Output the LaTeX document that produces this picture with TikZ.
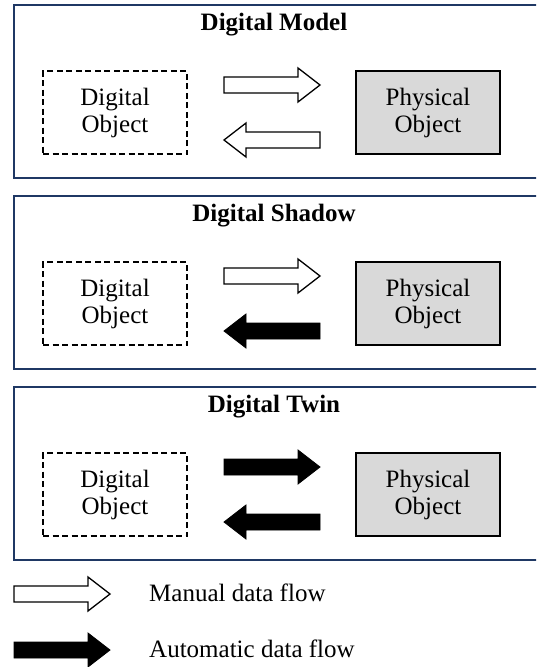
\documentclass[tikz,border=0pt]{standalone}
\usepackage{fontspec}
\setmainfont{Liberation Serif}
\definecolor{panelblue}{HTML}{1F3864}
\definecolor{physgray}{HTML}{D9D9D9}
\begin{document}
\begin{tikzpicture}[x=1pt,y=-1pt,
  every node/.style={font=\fontsize{25}{27}\selectfont, inner sep=0pt},
  panel/.style={draw=panelblue, line width=2.4pt},
  title/.style={font=\fontsize{25}{27}\selectfont\bfseries},
  digobj/.style={draw=black, dashed, dash pattern=on 6pt off 3.5pt, line width=1.5pt,
    minimum width=144pt, minimum height=83pt, align=center},
  physobj/.style={draw=black, fill=physgray, line width=1.5pt,
    minimum width=144pt, minimum height=83pt, align=center},
  manual/.style={draw=black, fill=white, line width=1.3pt, line join=miter},
  automatic/.style={draw=black, fill=black, line width=0.8pt, line join=miter},
  flowarrow/.pic={\path[pic actions] (0,-8) -- (74,-8) -- (74,-17) -- (96,0)
      -- (74,17) -- (74,8) -- (0,8) -- cycle;}
]
\useasboundingbox (0,0) rectangle (536,667);
\clip (0,0) rectangle (536,667);
\fill[white] (0,0) rectangle (536,667);

% three panels: top edge, title, forward-flow style, back-flow style
\foreach \top/\name/\fwd/\bwd [count=\i] in
  {5/Digital Model/manual/manual,
   196/Digital Shadow/manual/automatic,
   387/Digital Twin/automatic/automatic}{
  \draw[panel] (14,\top) rectangle (560,\top+173);
  \node[title] (title\i) at (274,\top+20) {\name};
  \node[digobj] (dig\i) at (115,\top+107.5) {Digital\\Object};
  \node[physobj] (phys\i) at (428,\top+107.5) {Physical\\Object};
  \pic[\fwd] (fwd\i) at (224,\top+80) {flowarrow};
  \pic[\bwd, rotate=180] (bwd\i) at (320,\top+135) {flowarrow};
}

% legend
\pic[manual] (legman) at (14,594) {flowarrow};
\pic[automatic] (legauto) at (14,650) {flowarrow};
\node[anchor=base west] (legmantext) at (149,601) {Manual data flow};
\node[anchor=base west] (legautotext) at (149,657) {Automatic data flow};
\end{tikzpicture}
\end{document}
